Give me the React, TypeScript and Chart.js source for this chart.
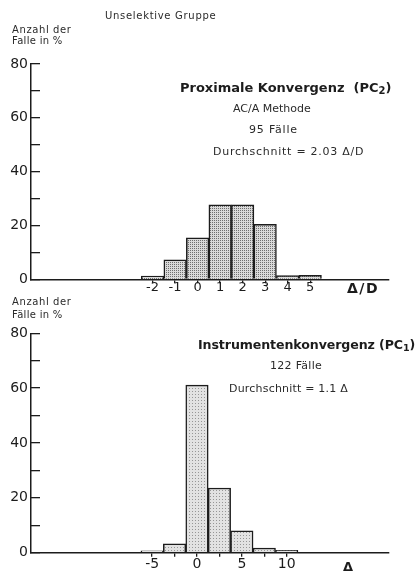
import React, { useEffect, useRef } from "react";
import { Chart, registerables } from "chart.js";
Chart.register(...registerables);

// ---- data ----
const pcBins = [-2, -1, 0, 1, 2, 3, 4, 5];
const pcPercent = [1.2, 7.2, 15.4, 27.7, 27.7, 20.4, 1.4, 1.5];
const pcTickLabels = ["-2", "-1", "0", "1", "2", "3", "4", "5"];

const instBins = [-5, -2.5, 0, 2.5, 5, 7.5, 10];
const instPercent = [0.7, 3.2, 61.1, 23.6, 8.0, 1.7, 0.9];
const instTickLabels = ["-5", "", "0", "", "5", "", "10"];

const yMax = 80;
const yStep = 10;
const yLabelEvery = 20;

const FONT = '"DejaVu Sans", "Liberation Sans", sans-serif';
const INK = "#1c1c1c";

function stipple(bg: string, dot: string, size: number) {
  const c = document.createElement("canvas");
  c.width = size;
  c.height = size;
  const g = c.getContext("2d")!;
  g.fillStyle = bg;
  g.fillRect(0, 0, size, size);
  g.fillStyle = dot;
  g.fillRect(0, 0, 1, 1);
  return g.createPattern(c, "repeat")!;
}

type HistProps = {
  bins: number[];
  values: number[];
  tickLabels: string[];
  xMin: number;
  xMax: number;
  top: number;
  height: number;
  padTop: number;
  xAxisHeight: number;
  fill: () => CanvasPattern;
  xFontSize: number;
  xPad: number;
};

function Histogram(p: HistProps) {
  const ref = useRef<HTMLCanvasElement | null>(null);
  useEffect(() => {
    const chart = new Chart(ref.current!, {
      type: "bar",
      data: {
        datasets: [
          {
            data: p.bins.map((x, i) => ({ x, y: p.values[i] })),
            backgroundColor: p.fill(),
            borderColor: INK,
            borderWidth: 1.5,
            barPercentage: 1,
            categoryPercentage: 1,
          } as any,
        ],
      },
      options: {
        responsive: false,
        animation: false,
        devicePixelRatio: 1,
        layout: { padding: { left: 0, right: 31, top: p.padTop, bottom: 0 } },
        plugins: { legend: { display: false }, tooltip: { enabled: false } },
        scales: {
          x: {
            type: "linear",
            min: p.xMin,
            max: p.xMax,
            offset: false,
            afterBuildTicks: (s: any) => {
              s.ticks = p.bins.map((v) => ({ value: v }));
            },
            afterFit: (s: any) => {
              s.height = p.xAxisHeight;
            },
            ticks: {
              autoSkip: false,
              maxRotation: 0,
              padding: p.xPad,
              color: INK,
              font: { family: FONT, size: p.xFontSize, lineHeight: 1 },
              callback: (v: any) => {
                const i = p.bins.indexOf(Number(v));
                return i >= 0 ? p.tickLabels[i] : "";
              },
            },
            grid: {
              offset: false,
              drawOnChartArea: false,
              drawTicks: true,
              tickLength: 4,
              color: INK,
              lineWidth: 1.3,
            },
            border: { color: INK, width: 1.5 },
          },
          y: {
            min: 0,
            max: yMax,
            afterFit: (s: any) => {
              s.width = 31;
            },
            ticks: {
              stepSize: yStep,
              padding: 12,
              color: INK,
              font: { family: FONT, size: 14, lineHeight: 1 },
              callback: (v: any) => (Number(v) % yLabelEvery === 0 ? String(v) : ""),
            },
            grid: {
              drawOnChartArea: false,
              drawTicks: true,
              tickLength: -9,
              color: INK,
              lineWidth: 1.3,
            },
            border: { color: INK, width: 1.5 },
          },
        },
      },
    });
    return () => chart.destroy();
  }, []);
  return (
    <canvas
      ref={ref}
      width={420}
      height={p.height}
      style={{ position: "absolute", left: 0, top: p.top, width: 420, height: p.height }}
    />
  );
}

type TProps = {
  x: number;
  y: number;
  size: number;
  ls?: number;
  weight?: number;
  color?: string;
  children: React.ReactNode;
};
function T({ x, y, size, ls = 0, weight = 400, color = "#2a2a2a", children }: TProps) {
  return (
    <div
      style={{
        position: "absolute",
        left: x,
        top: y - size * 0.6,
        fontFamily: FONT,
        fontSize: size,
        lineHeight: `${size * 1.2}px`,
        letterSpacing: ls,
        fontWeight: weight,
        color,
        whiteSpace: "nowrap",
      }}
    >
      {children}
    </div>
  );
}

export default function App() {
  return (
    <div
      style={{
        position: "absolute",
        left: 0,
        top: 0,
        width: 420,
        height: 574,
        background: "#fff",
        overflow: "hidden",
      }}
    >
      <Histogram
        bins={pcBins}
        values={pcPercent}
        tickLabels={pcTickLabels}
        xMin={-7.4}
        xMax={8.5}
        top={0}
        height={300}
        padTop={64}
        xAxisHeight={20.7}
        fill={() => stipple("#d9d9d9", "#6e6e6e", 2)}
        xFontSize={13}
        xPad={-2}
      />
      <Histogram
        bins={instBins}
        values={instPercent}
        tickLabels={instTickLabels}
        xMin={-18.5}
        xMax={21.4}
        top={280}
        height={294}
        padTop={53.3}
        xAxisHeight={21.3}
        fill={() => stipple("#e2e2e2", "#969696", 3)}
        xFontSize={14}
        xPad={1}
      />

      <T x={105} y={16} size={10} ls={0.7}>Unselektive Gruppe</T>
      <T x={12} y={30} size={10} ls={0.6}>Anzahl der</T>
      <T x={12} y={41} size={10} ls={0.3}>Falle in %</T>

      <T x={180} y={88} size={13} ls={0} weight={700} color={INK}>
        Proximale Konvergenz{"\u00a0\u00a0"}(PC<sub style={{ fontSize: 10, verticalAlign: -2 }}>2</sub>)
      </T>
      <T x={233} y={109} size={11} ls={0}>AC/A Methode</T>
      <T x={249} y={130} size={11} ls={0.8}>95 Fälle</T>
      <T x={213} y={152} size={11} ls={0.75}>Durchschnitt = 2.03 Δ/D</T>
      <T x={347} y={288} size={14} ls={1.5} weight={700} color={INK}>Δ/D</T>

      <T x={12} y={302} size={10} ls={0.6}>Anzahl der</T>
      <T x={12} y={315} size={10} ls={0.3}>Fälle in %</T>

      <T x={198} y={345} size={12.6} ls={-0.1} weight={700} color={INK}>
        Instrumentenkonvergenz{"\u00a0"}(PC<sub style={{ fontSize: 9.5, verticalAlign: -2 }}>1</sub>)
      </T>
      <T x={270} y={366} size={11} ls={0.3}>122 Fälle</T>
      <T x={229} y={389} size={11} ls={0.2}>Durchschnitt = 1.1 Δ</T>
      <T x={343} y={567} size={13} weight={700} color={INK}>Δ</T>
    </div>
  );
}
